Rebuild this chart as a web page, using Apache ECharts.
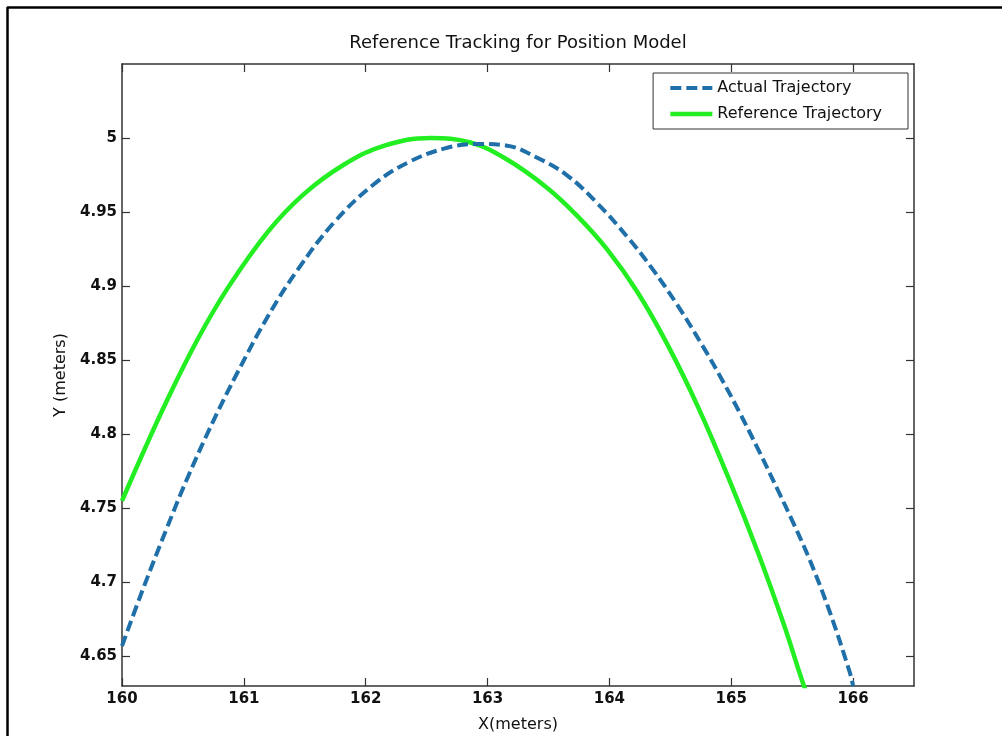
<!DOCTYPE html>
<html>
<head>
<meta charset="utf-8">
<script src="https://cdn.jsdelivr.net/npm/echarts@6/dist/echarts.min.js"></script>
<style>
html,body{margin:0;padding:0;background:#fff;}
#chart{width:1002px;height:736px;}
</style>
</head>
<body>
<div id="chart"></div>
<script>
// ---- data ----
const chartTitle = 'Reference Tracking for Position Model';
const xName = 'X(meters)';
const yName = 'Y (meters)';
const seriesNames = ['Actual Trajectory', 'Reference Trajectory'];
const xTicks = [160, 161, 162, 163, 164, 165, 166];
const yTicks = [4.65, 4.7, 4.75, 4.8, 4.85, 4.9, 4.95, 5];
const actualX = [160.00,160.17,160.37,160.54,160.75,160.95,161.20,161.45,161.74,162.07,162.36,162.65,162.90,163.15,163.40,163.65,163.90,164.15,164.35,164.56,164.77,164.93,165.06,165.22,165.39,165.51,165.64,165.80,165.97,166.00];
const actualY = [4.657,4.695,4.737,4.771,4.809,4.842,4.880,4.912,4.943,4.969,4.984,4.993,4.996,4.995,4.987,4.975,4.956,4.933,4.912,4.887,4.859,4.836,4.816,4.790,4.761,4.740,4.716,4.682,4.640,4.630];
const refX = [160.00,160.17,160.37,160.62,160.87,161.20,161.49,161.82,162.16,162.53,162.86,163.15,163.48,163.73,163.98,164.23,164.48,164.73,164.98,165.22,165.43,165.58,165.62];
const refY = [4.755,4.787,4.823,4.864,4.899,4.937,4.962,4.982,4.995,5.000,4.997,4.986,4.967,4.948,4.925,4.896,4.860,4.818,4.770,4.720,4.672,4.634,4.625];

const zip = (xs, ys) => xs.map((x, i) => [x, ys[i]]);

const blue = '#1f6fa9';
const green = '#22ee22';
const axisColor = '#333';
const tickFont = { fontFamily: 'DejaVu Sans', fontWeight: 'bold', fontSize: 15, color: '#111' };
const dashPattern = [11, 5];

const chart = echarts.init(document.getElementById('chart'));
chart.setOption({
  animation: false,
  backgroundColor: '#fff',
  title: {
    text: chartTitle,
    left: 518,
    textAlign: 'center',
    top: 34,
    padding: 0,
    textStyle: { fontFamily: 'DejaVu Sans', fontWeight: 'normal', fontSize: 18, color: '#111' }
  },
  legend: {
    right: 94,
    top: 73,
    orient: 'vertical',
    padding: [7, 26, 7, 15],
    itemWidth: 42,
    itemHeight: 14,
    itemGap: 10,
    borderColor: '#333',
    borderWidth: 1,
    backgroundColor: '#fff',
    borderRadius: 0,
    itemStyle: { opacity: 0 },
    textStyle: { fontFamily: 'DejaVu Sans', fontSize: 16, color: '#111' },
    data: [
      { name: seriesNames[0], itemStyle: { opacity: 0 }, lineStyle: { color: blue, width: 4, type: dashPattern, cap: 'butt' } },
      { name: seriesNames[1], itemStyle: { opacity: 0 }, lineStyle: { color: green, width: 4.5, type: 'solid' } }
    ]
  },
  grid: { left: 122, right: 88, top: 64, bottom: 50, outerBoundsMode: 'none', containLabel: false },
  xAxis: [
    {
      type: 'value', position: 'bottom', min: 160, max: 166.5,
      name: xName, nameLocation: 'middle', nameGap: 31,
      nameTextStyle: { fontFamily: 'DejaVu Sans', fontSize: 16, color: '#111' },
      axisLine: { show: true, lineStyle: { color: axisColor, width: 1.5 } },
      axisTick: { show: true, inside: true, length: 8, customValues: xTicks, lineStyle: { color: axisColor, width: 1.2 } },
      axisLabel: Object.assign({ margin: 6, customValues: xTicks }, tickFont),
      splitLine: { show: false }
    },
    {
      type: 'value', position: 'top', min: 160, max: 166.5,
      axisLine: { show: true, lineStyle: { color: axisColor, width: 1.5 } },
      axisTick: { show: true, inside: true, length: 8, customValues: xTicks, lineStyle: { color: axisColor, width: 1.2 } },
      axisLabel: { show: false },
      splitLine: { show: false }
    }
  ],
  yAxis: [
    {
      type: 'value', position: 'left', min: 4.63, max: 5.05,
      name: yName, nameLocation: 'middle', nameGap: 44, nameRotate: 90,
      nameTextStyle: { fontFamily: 'DejaVu Sans', fontSize: 16, color: '#111' },
      axisLine: { show: true, lineStyle: { color: axisColor, width: 1.5 } },
      axisTick: { show: true, inside: true, length: 8, customValues: yTicks, lineStyle: { color: axisColor, width: 1.2 } },
      axisLabel: Object.assign({ margin: 5, customValues: yTicks, formatter: v => String(+v.toFixed(2)) }, tickFont),
      splitLine: { show: false }
    },
    {
      type: 'value', position: 'right', min: 4.63, max: 5.05,
      axisLine: { show: true, lineStyle: { color: axisColor, width: 1.5 } },
      axisTick: { show: true, inside: true, length: 8, customValues: yTicks, lineStyle: { color: axisColor, width: 1.2 } },
      axisLabel: { show: false },
      splitLine: { show: false }
    }
  ],
  series: [
    {
      name: seriesNames[0], type: 'line', xAxisIndex: 0, yAxisIndex: 0,
      data: zip(actualX, actualY), showSymbol: false, symbol: 'none', smooth: 0.4, clip: true,
      itemStyle: { color: blue },
      lineStyle: { color: blue, width: 4, type: dashPattern, cap: 'butt' },
      z: 3
    },
    {
      name: seriesNames[1], type: 'line', xAxisIndex: 0, yAxisIndex: 0,
      data: zip(refX, refY), showSymbol: false, symbol: 'none', smooth: 0.4, clip: true,
      itemStyle: { color: green },
      lineStyle: { color: green, width: 4.5 },
      z: 2
    }
  ],
  graphic: [
    { type: 'line', shape: { x1: 7, y1: 7.5, x2: 1002, y2: 7.5 }, style: { stroke: '#000', lineWidth: 2.5 } },
    { type: 'line', shape: { x1: 7.5, y1: 7, x2: 7.5, y2: 736 }, style: { stroke: '#000', lineWidth: 2.5 } }
  ]
});
</script>
</body>
</html>
